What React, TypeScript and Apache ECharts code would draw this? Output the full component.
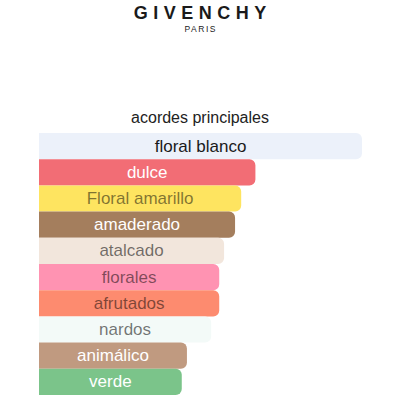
import { useEffect, useRef } from 'react';
import * as echarts from 'echarts';

const categories = [
  'floral blanco',
  'dulce',
  'Floral amarillo',
  'amaderado',
  'atalcado',
  'florales',
  'afrutados',
  'nardos',
  'animálico',
  'verde',
];
const values = [100, 67, 62.6, 60.7, 57.3, 55.8, 55.8, 53.3, 45.8, 44.2];
const barColors = [
  '#ECF1FA',
  '#F26D75',
  '#FEE460',
  '#A47E5D',
  '#F2E6DC',
  '#FF93B2',
  '#FD8B6F',
  '#F3FAF8',
  '#C09A80',
  '#7BC48A',
];
const labelColors = [
  '#1a1a1a',
  '#ffffff',
  'rgba(0,0,0,0.5)',
  '#ffffff',
  'rgba(0,0,0,0.55)',
  'rgba(0,0,0,0.5)',
  'rgba(0,0,0,0.5)',
  'rgba(0,0,0,0.55)',
  '#ffffff',
  '#ffffff',
];

const FONT = '"Liberation Sans", Arial, sans-serif';

export default function App() {
  const ref = useRef<HTMLDivElement>(null);

  useEffect(() => {
    if (!ref.current) return;
    const chart = echarts.init(ref.current, undefined, { renderer: 'svg' });
    chart.setOption({
      animation: false,
      title: {
        text: 'acordes principales',
        left: 'center',
        top: 104,
        textStyle: {
          fontFamily: FONT,
          fontSize: 16,
          fontWeight: 'normal',
          color: '#222',
        },
      },
      grid: { left: 39, right: 38, top: 133, bottom: 5 },
      xAxis: { type: 'value', min: 0, max: 100, show: false },
      yAxis: {
        type: 'category',
        data: categories,
        inverse: true,
        show: false,
      },
      series: [
        {
          type: 'bar',
          barCategoryGap: '0%',
          data: values.map((v, i) => ({
            value: v,
            itemStyle: { color: barColors[i], borderRadius: [0, 6, 6, 0] },
            label: { color: labelColors[i] },
          })),
          label: {
            show: true,
            position: 'inside',
            formatter: (p: any) => categories[p.dataIndex],
            fontFamily: FONT,
            fontSize: 17,
          },
        },
      ],
    });
    return () => chart.dispose();
  }, []);

  return (
    <div style={{ position: 'fixed', left: 0, top: 0, width: 400, height: 400, background: '#fff' }}>
      <div
        style={{
          position: 'absolute',
          top: 3,
          left: 0,
          width: 400,
          textAlign: 'center',
          fontFamily: FONT,
          fontSize: 18,
          fontWeight: 'bold',
          letterSpacing: 5.5,
          color: '#1a1a1a',
          lineHeight: '20px',
          textIndent: 5.5,
        }}
      >
        GIVENCHY
      </div>
      <div
        style={{
          position: 'absolute',
          top: 24,
          left: 0,
          width: 400,
          textAlign: 'center',
          fontFamily: FONT,
          fontSize: 8.5,
          letterSpacing: 1.5,
          color: '#1a1a1a',
          lineHeight: '10px',
          textIndent: 1.5,
        }}
      >
        PARIS
      </div>
      <div ref={ref} style={{ position: 'absolute', left: 0, top: 0, width: 400, height: 400 }} />
    </div>
  );
}
